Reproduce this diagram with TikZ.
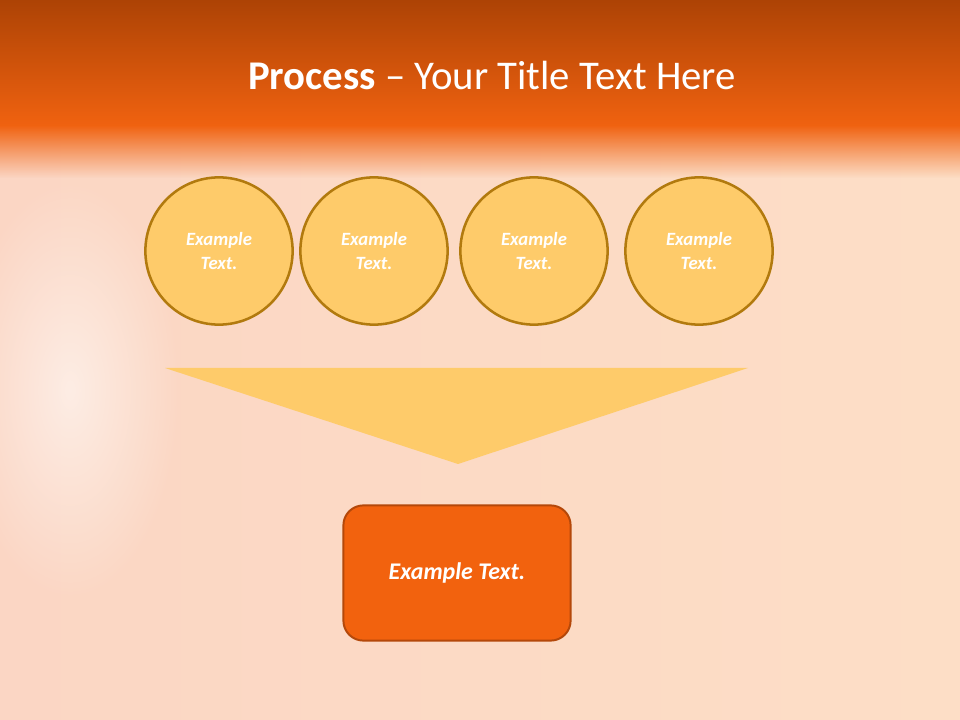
\documentclass[tikz,border=0pt]{standalone}
\usepackage{fontspec}
\setmainfont{Carlito}
\usetikzlibrary{fadings}

\definecolor{bandtop}{HTML}{AD4305}
\definecolor{bandbot}{HTML}{F06210}
\definecolor{peachleft}{HTML}{FBD6C4}
\definecolor{peachmid}{HTML}{FBCAB9}
\definecolor{peachright}{HTML}{FDDEC6}
\definecolor{bubblefill}{HTML}{FECB6A}
\definecolor{bubbleline}{HTML}{B27A0E}
\definecolor{boxfill}{HTML}{F2620E}
\definecolor{boxline}{HTML}{B4480A}

\tikzfading[name=softblob,inner color=transparent!45,outer color=transparent!100]

\begin{document}
\begin{tikzpicture}[x=0.025cm,y=-0.025cm]
            \tikzstyle{bubble}=[circle,draw=bubbleline,fill=bubblefill,line width=1.8pt,minimum size=3.68cm,inner sep=0pt,text=white,align=center,font=\fontsize{13.3}{16.5}\selectfont\bfseries\itshape]
            \tikzstyle{resultbox}=[rectangle,rounded corners=0.5cm,draw=boxline,fill=boxfill,line width=1.4pt,minimum width=5.68cm,minimum height=3.38cm,text=white,font=\fontsize{17}{20}\selectfont\bfseries\itshape]
            \useasboundingbox (0,0) rectangle (960,720);
            % background
            \shade[left color=peachleft,middle color=peachmid,right color=peachright] (0,120) rectangle (960,720);
            \fill[white,path fading=softblob] (70,390) ellipse (110 and 210);
            \shade[top color=bandtop,bottom color=bandbot] (0,0) rectangle (960,126);
            \fill[bandbot,path fading=south] (0,125) rectangle (960,178);
            \node[text=white,font=\fontsize{29}{34}\selectfont] (title) at (492,75) {{\bfseries Process} – Your Title Text Here};
            % circles
            \foreach \n/\x in {1/219,2/374,3/534,4/699}
                \node[bubble] (c\n) at (\x,251) {Example\\Text.};
            % funnel
            \coordinate (ftl) at (165,368);
            \coordinate (ftr) at (748,368);
            \coordinate (ftip) at (458,464);
            \fill[bubblefill] (ftl) -- (ftr) -- (ftip) -- cycle;
            \node[resultbox] (result) at (457,573) {Example Text.};
        \end{tikzpicture}
\end{document}
